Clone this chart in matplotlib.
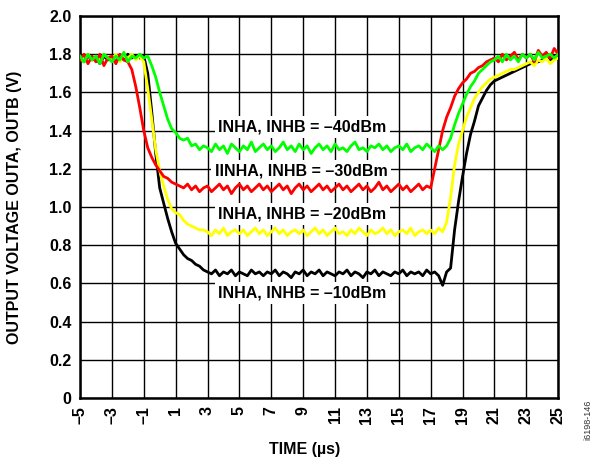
import numpy as np
import matplotlib
matplotlib.use('Agg')
from matplotlib import pyplot as plt

plt.rcParams['font.family'] = ['Liberation Sans', 'DejaVu Sans']
plt.rcParams['font.weight'] = 'bold'

# sample times (us), 0.25 us step
time_us = np.arange(-5, 25.001, 0.25)

# output voltage (V)
v_40dbm = [
    1.79, 1.76, 1.80, 1.77, 1.79, 1.75, 1.80, 1.78,
    1.76, 1.79, 1.77, 1.81, 1.76, 1.79, 1.78, 1.80,
    1.78, 1.79, 1.74, 1.68, 1.60, 1.53, 1.46, 1.41,
    1.39, 1.36, 1.35, 1.36, 1.32, 1.33, 1.30, 1.32,
    1.31, 1.29, 1.33, 1.30, 1.32, 1.28, 1.33, 1.31,
    1.29, 1.32, 1.30, 1.34, 1.29, 1.31, 1.33, 1.30,
    1.32, 1.29, 1.31, 1.34, 1.30, 1.32, 1.29, 1.33,
    1.30, 1.32, 1.28, 1.31, 1.33, 1.30, 1.32, 1.29,
    1.33, 1.30, 1.31, 1.29, 1.32, 1.34, 1.30, 1.31,
    1.29, 1.32, 1.31, 1.33, 1.30, 1.32, 1.29, 1.31,
    1.32, 1.30, 1.33, 1.29, 1.31, 1.32, 1.30, 1.33,
    1.31, 1.29, 1.32, 1.30, 1.32, 1.36, 1.43, 1.49,
    1.54, 1.59, 1.63, 1.66, 1.70, 1.72, 1.74, 1.76,
    1.77, 1.79, 1.76, 1.80, 1.77, 1.79, 1.76, 1.80,
    1.78, 1.80, 1.77, 1.81, 1.78, 1.79, 1.80, 1.78,
    1.80,
]
v_30dbm = [
    1.77, 1.80, 1.75, 1.79, 1.76, 1.80, 1.74, 1.78,
    1.79, 1.75, 1.80, 1.77, 1.76, 1.72, 1.63, 1.52,
    1.40, 1.31, 1.26, 1.22, 1.19, 1.16, 1.15, 1.13,
    1.12, 1.11, 1.10, 1.12, 1.09, 1.11, 1.08, 1.10,
    1.11, 1.08, 1.10, 1.12, 1.09, 1.11, 1.07, 1.10,
    1.12, 1.09, 1.11, 1.08, 1.10, 1.12, 1.09, 1.11,
    1.08, 1.10, 1.12, 1.09, 1.11, 1.07, 1.10, 1.12,
    1.09, 1.11, 1.08, 1.10, 1.12, 1.09, 1.11, 1.08,
    1.10, 1.12, 1.09, 1.11, 1.08, 1.10, 1.12, 1.09,
    1.11, 1.08, 1.10, 1.13, 1.09, 1.11, 1.08, 1.10,
    1.12, 1.09, 1.11, 1.08, 1.10, 1.12, 1.09, 1.11,
    1.10, 1.20, 1.30, 1.40, 1.47, 1.52, 1.58, 1.62,
    1.65, 1.67, 1.70, 1.71, 1.73, 1.74, 1.76, 1.77,
    1.78, 1.76, 1.80, 1.77, 1.79, 1.81, 1.77, 1.80,
    1.78, 1.80, 1.76, 1.82, 1.79, 1.81, 1.78, 1.83,
    1.80,
]
v_20dbm = [
    1.78, 1.76, 1.80, 1.77, 1.79, 1.76, 1.80, 1.78,
    1.77, 1.80, 1.76, 1.79, 1.78, 1.80, 1.77, 1.79,
    1.76, 1.62, 1.46, 1.30, 1.19, 1.11, 1.04, 0.99,
    0.97, 0.96, 0.93, 0.91, 0.90, 0.89, 0.88, 0.88,
    0.87, 0.85, 0.88, 0.86, 0.89, 0.85, 0.87, 0.88,
    0.86, 0.88, 0.85, 0.87, 0.89, 0.86, 0.88, 0.85,
    0.87, 0.89, 0.86, 0.88, 0.85, 0.87, 0.88, 0.86,
    0.88, 0.85, 0.87, 0.89, 0.86, 0.88, 0.85, 0.87,
    0.89, 0.86, 0.87, 0.85, 0.88, 0.86, 0.89, 0.87,
    0.85, 0.88, 0.86, 0.87, 0.89, 0.86, 0.88, 0.85,
    0.87, 0.88, 0.86, 0.89, 0.85, 0.87, 0.88, 0.86,
    0.88, 0.86, 0.89, 0.87, 0.92, 1.05, 1.22, 1.33,
    1.40, 1.47, 1.52, 1.57, 1.60, 1.63, 1.65, 1.67,
    1.68, 1.69, 1.70, 1.71, 1.72, 1.72, 1.73, 1.74,
    1.75, 1.76, 1.74, 1.77, 1.76, 1.78, 1.75, 1.77,
    1.78,
]
v_10dbm = [
    1.78, 1.76, 1.79, 1.77, 1.78, 1.75, 1.79, 1.77,
    1.78, 1.76, 1.79, 1.77, 1.80, 1.78, 1.79, 1.78,
    1.79, 1.70, 1.50, 1.28, 1.10, 1.02, 0.94, 0.87,
    0.81, 0.78, 0.75, 0.73, 0.72, 0.70, 0.69, 0.67,
    0.66, 0.65, 0.67, 0.64, 0.66, 0.65, 0.67, 0.64,
    0.66, 0.65, 0.64, 0.67, 0.65, 0.66, 0.64, 0.66,
    0.65, 0.67, 0.64, 0.66, 0.65, 0.63, 0.66, 0.65,
    0.67, 0.64, 0.66, 0.65, 0.67, 0.64, 0.66, 0.65,
    0.64, 0.66, 0.65, 0.67, 0.64, 0.66, 0.65, 0.63,
    0.66, 0.65, 0.67, 0.64, 0.66, 0.65, 0.64, 0.66,
    0.65, 0.67, 0.64, 0.66, 0.65, 0.66, 0.64, 0.67,
    0.65, 0.66, 0.64, 0.59, 0.66, 0.68, 0.88, 1.03,
    1.16, 1.28, 1.38, 1.45, 1.53, 1.57, 1.61, 1.64,
    1.66, 1.67, 1.68, 1.69, 1.70, 1.71, 1.72, 1.73,
    1.74, 1.75, 1.76, 1.76, 1.77, 1.78, 1.77, 1.79,
    1.78,
]

x_ticks = [-5, -3, -1, 1, 3, 5, 7, 9, 11, 13, 15, 17, 19, 21, 23, 25]
y_ticks = [0, 0.2, 0.4, 0.6, 0.8, 1.0, 1.2, 1.4, 1.6, 1.8, 2.0]

labels = [
    ('INHA, INHB = \u201340dBm', 3.66, 1.42),
    ('IINHA, INHB = \u201330dBm', 3.45, 1.19),
    ('INHA, INHB = \u201320dBm', 3.66, 0.965),
    ('INHA, INHB = \u201310dBm', 3.66, 0.55),
]

fig = plt.figure(figsize=(5.97, 4.61), dpi=100)
ax = fig.add_axes([0.134, 0.1367, 0.801, 0.8286])

ax.plot(time_us, v_10dbm, color='#000000', lw=2.0, zorder=3)
ax.plot(time_us, v_20dbm, color='#ffff00', lw=2.0, zorder=3)
ax.plot(time_us, v_30dbm, color='#ff0000', lw=2.0, zorder=3)
ax.plot(time_us, v_40dbm, color='#00ff00', lw=2.0, zorder=3)

for text, x, y in labels:
    ax.text(x, y, text, fontsize=11.5, fontweight='bold', va='center', ha='left',
            zorder=2.5,
            bbox=dict(facecolor='white', edgecolor='none', pad=2.5))

ax.set_xlim(-5, 25)
ax.set_ylim(0, 2.0)
ax.set_xticks(x_ticks)
ax.set_xticklabels([str(t).replace('-', '\u2013') for t in x_ticks],
                   rotation=90, fontsize=11.5, fontweight='bold')
ax.set_yticks(y_ticks)
ax.set_yticklabels(['0'] + [f'{v:.1f}' for v in y_ticks[1:]],
                   fontsize=11.5, fontweight='bold')
ax.tick_params(length=0, pad=6)
ax.grid(True, color='black', lw=1.0, zorder=1)
ax.set_axisbelow(True)
for s in ax.spines.values():
    s.set_linewidth(1.8)

ax.set_xlabel('TIME (\u00b5s)', fontsize=11.5, fontweight='bold')
ax.xaxis.label.set(va='center', ha='center')
ax.xaxis.set_label_coords(0.47, -0.136)
ax.set_ylabel('OUTPUT VOLTAGE OUTA, OUTB (V)', fontsize=11.5, fontweight='bold')
ax.yaxis.label.set(va='center', ha='center')
ax.yaxis.set_label_coords(-0.138, 0.5)

fig.text(0.985, 0.09, 'i6198-146', rotation=90, fontsize=6.5, color='#333333',
         fontweight='normal', ha='center', va='center')

fig.savefig('out.png', dpi=100)
